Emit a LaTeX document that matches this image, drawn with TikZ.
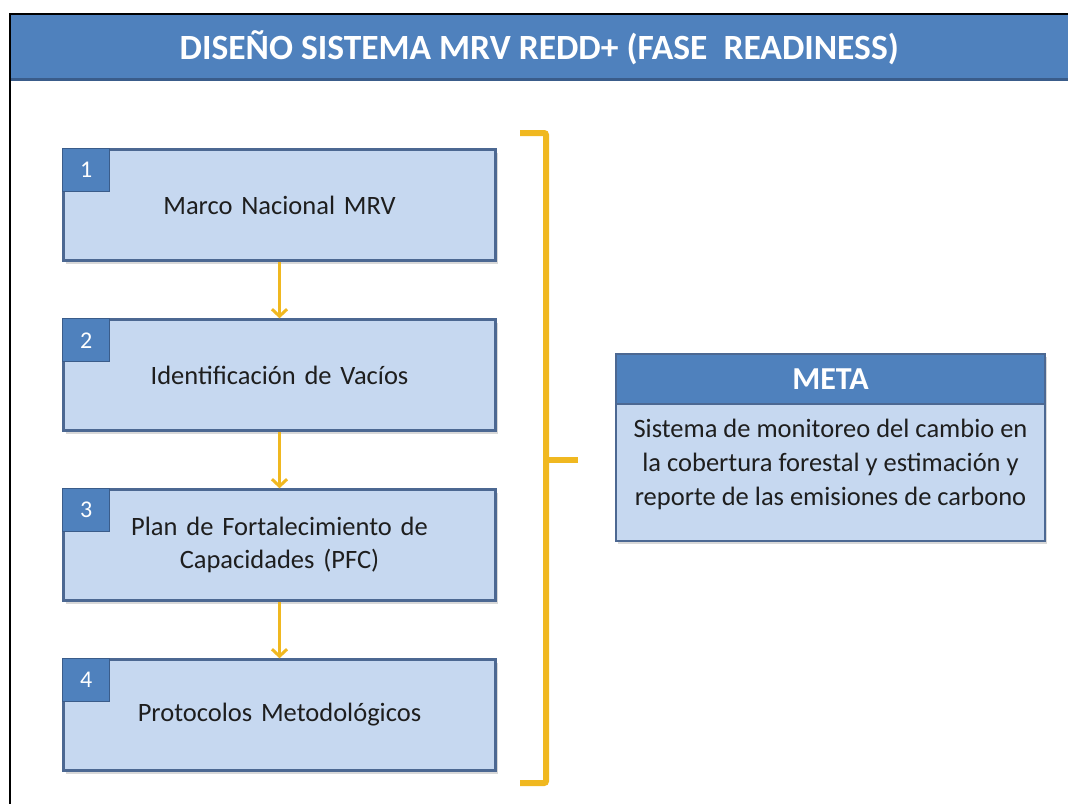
\documentclass[tikz,border=0pt]{standalone}
\usepackage{fontspec}
\setmainfont{Carlito}
\usepackage{tikz}
\usetikzlibrary{arrows.meta,positioning,shadows}

\definecolor{hdrblue}{RGB}{79,129,189}
\definecolor{hdrdark}{RGB}{58,92,138}
\definecolor{boxfill}{RGB}{198,216,240}
\definecolor{boxline}{RGB}{76,104,146}
\definecolor{gold}{RGB}{240,184,32}
\definecolor{txtgray}{RGB}{30,30,30}

\tikzset{
  titlebar/.style={fill=hdrblue, minimum width=1058pt, minimum height=67pt, inner sep=0pt, text=white, font=\fontsize{35.5}{35.5}\selectfont\bfseries},
  stepbox/.style={draw=boxline, line width=2.5pt, fill=boxfill, minimum width=432pt, minimum height=111pt, text width=400pt, align=center, text=txtgray, font=\fontsize{26.5}{33}\selectfont, drop shadow={shadow xshift=2pt, shadow yshift=-3pt, opacity=.3}},
  numtab/.style={draw=hdrdark, line width=1pt, fill=hdrblue, minimum width=47pt, minimum height=43pt, inner sep=0pt, text=white, font=\fontsize{24}{24}\selectfont},
  flow/.style={draw=gold, line width=3pt, -{Straight Barb[length=7pt,width=15pt]}},
  metabox/.style={draw=boxline, line width=2.5pt, fill=boxfill, minimum width=429pt, minimum height=187pt, drop shadow={shadow xshift=2pt, shadow yshift=-3pt, opacity=.3}},
  metahead/.style={draw=boxline, line width=2.5pt, fill=hdrblue, minimum width=429pt, minimum height=50pt, inner sep=0pt, text=white, font=\fontsize{32}{32}\selectfont\bfseries},
  metatext/.style={align=center, text=txtgray, font=\fontsize{26.5}{34}\selectfont},
  brace/.style={draw=gold, line width=6pt},
}

\begin{document}
\begin{tikzpicture}[x=1pt,y=-1pt]
\useasboundingbox[fill=white] (0,0) rectangle (1068,804);

% cabecera
\node[titlebar, anchor=north west] (titulo) at (10,14) {DISEÑO SISTEMA MRV REDD+ (FASE\ \ READINESS)};
\draw[hdrdark, line width=3pt] ([yshift=1.5pt]titulo.south west) -- ([yshift=1.5pt]titulo.south east);
\draw[line width=2pt] (titulo.north east) -- (titulo.north west) -- (titulo.north west |- 0,804);

% pasos
\node[stepbox] (marco) at (279.5,205) {Marco Nacional MRV};
\node[stepbox, below=56.5pt of marco] (vacios) {Identificación de Vacíos};
\node[stepbox, below=56.5pt of vacios] (plan) {Plan de Fortalecimiento de\\Capacidades (PFC)};
\node[stepbox, below=56.5pt of plan] (protocolos) {Protocolos Metodológicos};

\node[numtab, anchor=north west] (n1) at (marco.north west) {1};
\node[numtab, anchor=north west] (n2) at (vacios.north west) {2};
\node[numtab, anchor=north west] (n3) at (plan.north west) {3};
\node[numtab, anchor=north west] (n4) at (protocolos.north west) {4};

\draw[flow] (marco) -- (vacios);
\draw[flow] (vacios) -- (plan);
\draw[flow] (plan) -- (protocolos);

% llave
\coordinate (llavearriba) at (520,133);
\coordinate (llaveabajo) at (520,783);
\coordinate (llavepunta) at (578,460);
\draw[brace, rounded corners=2pt] (llavearriba) -- (546,133) -- (546,783) -- (llaveabajo);
\draw[brace] (546,460) -- (llavepunta);

% meta
\node[metabox] (meta) at (830.5,447.5) {};
\node[metahead, anchor=north] (metatitulo) at (meta.north) {META};
\node[metatext] (metatexto) at (830.5,464) {Sistema de monitoreo del cambio en\\la cobertura forestal y estimación y\\reporte de las emisiones de carbono};
\end{tikzpicture}
\end{document}
